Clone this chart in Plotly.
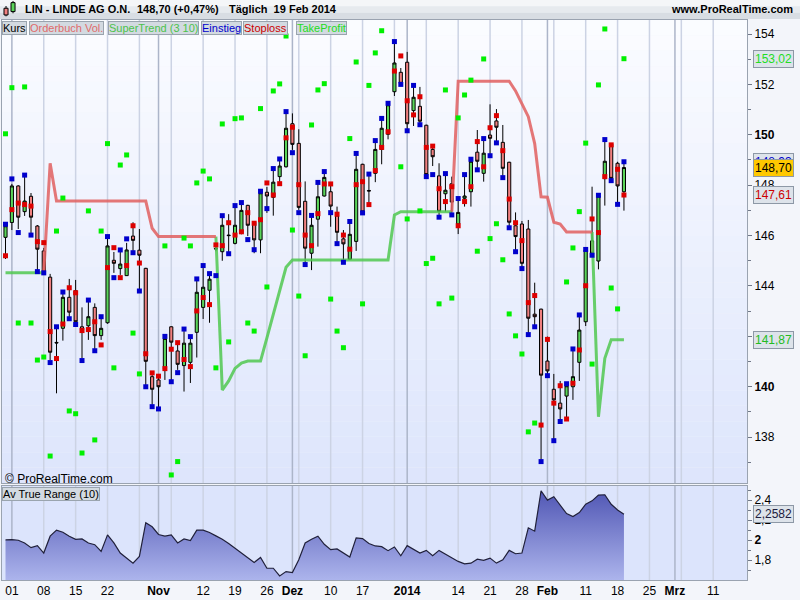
import pandas as pd
import plotly.graph_objects as go

# trading days (Xetra), index 0 = 30.09.2013
holidays = ["2013-12-24", "2013-12-25", "2013-12-26", "2013-12-31", "2014-01-01"]
days = [d.strftime("%Y-%m-%d") for d in pd.bdate_range("2013-09-30", "2014-03-21")]
days = [d for d in days if d not in holidays]
pos = {d: i for i, d in enumerate(days)}

opens = [145.93, 146.52, 147.97, 146.95, 147.56, 146.38, 145.39, 144.35, 141.76, 142.32,
         143.55, 143.81, 142.38, 142.42, 143.15, 142.03, 142.54, 145.02, 144.69, 144.41,
         145.98, 145.42, 144.70, 140.40, 140.27, 140.69, 142.38, 141.42, 140.84, 140.97,
         142.16, 143.15, 143.83, 145.49, 145.36, 146.02, 145.69, 146.09, 147.20, 146.53,
         145.83, 147.72, 147.52, 148.34, 148.73, 150.44, 149.66, 147.36, 145.30, 146.65,
         147.57, 147.74, 146.78, 145.87, 145.06, 145.77, 148.83, 147.79, 148.47, 149.42,
         150.02, 151.71, 152.48, 152.88, 150.96, 151.13, 150.38, 149.42, 148.37, 147.66,
         148.06, 146.46, 147.48, 147.74, 149.31, 148.47, 149.99, 150.55, 149.70, 148.91,
         146.39, 146.46, 146.26, 142.88, 143.08, 141.02, 139.90, 139.35, 139.63, 140.00,
         140.97, 142.58, 145.79, 144.99, 148.26, 149.63, 148.87, 147.74]
highs = [146.42, 148.05, 148.00, 148.33, 147.69, 146.42, 145.51, 144.48, 142.29, 143.72,
         144.28, 144.24, 143.15, 143.40, 143.31, 142.73, 145.90, 145.35, 145.35, 145.71,
         146.53, 146.26, 144.72, 140.51, 140.39, 141.98, 142.40, 141.70, 142.21, 141.94,
         144.20, 144.71, 144.44, 145.60, 146.74, 146.85, 147.13, 147.25, 147.22, 146.55,
         147.74, 147.93, 148.64, 149.00, 150.98, 150.85, 150.22, 148.15, 146.78, 148.09,
         148.52, 147.97, 147.15, 146.22, 146.54, 149.24, 148.85, 148.44, 149.75, 150.63,
         151.24, 153.68, 152.65, 153.29, 151.94, 151.90, 150.40, 149.56, 148.87, 148.44,
         148.34, 147.45, 148.40, 149.00, 150.19, 149.83, 151.21, 151.02, 150.39, 148.93,
         146.92, 146.58, 146.62, 144.13, 143.10, 141.99, 140.51, 140.23, 140.11, 141.46,
         142.81, 145.45, 147.94, 147.60, 149.79, 149.66, 148.93, 148.93]
lows = [145.07, 146.22, 146.26, 146.78, 146.06, 144.63, 144.55, 141.06, 139.74, 141.83,
        142.73, 142.45, 141.14, 141.86, 141.50, 141.86, 142.50, 144.52, 144.44, 144.40,
        145.39, 143.84, 140.07, 139.28, 139.16, 140.27, 140.23, 140.67, 139.81, 140.15,
        141.16, 142.69, 142.54, 145.38, 145.00, 145.30, 145.65, 146.05, 145.98, 145.30,
        145.30, 146.90, 146.79, 147.97, 148.70, 149.40, 147.02, 144.91, 144.63, 145.56,
        147.55, 146.35, 145.71, 145.03, 145.04, 145.39, 146.86, 147.15, 148.12, 148.83,
        149.82, 151.54, 151.98, 150.19, 150.35, 150.43, 148.37, 148.76, 146.82, 146.95,
        146.90, 146.06, 147.15, 147.15, 148.68, 148.14, 149.20, 149.71, 148.37, 146.38,
        145.43, 144.75, 142.13, 142.45, 137.10, 140.47, 137.89, 138.68, 138.64, 139.48,
        140.23, 142.41, 145.23, 144.66, 147.19, 148.21, 147.25, 146.99]
closes = [146.39, 147.97, 146.73, 147.37, 146.73, 145.46, 144.57, 141.37, 141.74, 143.55,
          142.96, 142.58, 142.25, 142.78, 142.03, 142.32, 145.59, 144.90, 144.87, 145.43,
          145.81, 145.22, 141.01, 139.90, 140.00, 141.92, 141.77, 140.89, 141.73, 141.73,
          143.75, 143.95, 144.27, 145.47, 146.41, 146.00, 146.41, 147.00, 146.41, 145.83,
          147.70, 147.57, 148.12, 148.76, 150.26, 149.62, 147.12, 145.50, 146.41, 147.54,
          148.31, 147.17, 146.13, 145.67, 146.05, 148.63, 146.94, 147.77, 149.42, 150.26,
          151.19, 152.85, 152.04, 150.44, 151.49, 150.54, 148.42, 149.13, 146.96, 147.80,
          147.33, 146.92, 147.57, 148.95, 148.95, 149.27, 149.86, 150.30, 148.67, 146.53,
          145.96, 144.90, 142.72, 142.78, 140.46, 140.63, 139.48, 139.12, 140.04, 140.40,
          142.25, 145.43, 145.30, 147.57, 148.95, 148.27, 147.97, 148.70]

einstieg = [146.45, 148.25, 146.12, 148.40, 146.02, 144.57, 144.52, 140.96, 142.38, 143.76,
            142.70, 142.47, 141.04, 143.44, 141.43, 142.78, 145.96, 144.33, 145.43, 145.87,
            145.32, 143.80, 140.00, 139.21, 139.12, 142.00, 140.20, 140.56, 142.29, 141.99,
            144.28, 144.81, 144.49, 144.41, 146.79, 145.28, 147.19, 147.31, 145.84, 145.44,
            147.76, 147.07, 148.66, 149.04, 150.92, 149.29, 146.91, 144.85, 146.80, 148.11,
            148.54, 146.91, 145.68, 144.94, 146.56, 149.26, 146.90, 148.44, 149.77, 150.65,
            151.25, 153.70, 152.00, 150.16, 151.96, 150.40, 148.34, 148.42, 146.73, 148.46,
            146.82, 147.47, 148.42, 149.03, 148.61, 149.85, 149.17, 149.68, 148.30, 146.31,
            145.36, 144.69, 142.07, 142.38, 137.03, 140.44, 137.86, 138.62, 140.12, 141.50,
            142.85, 145.45, 145.22, 147.60, 149.81, 148.18, 147.24, 148.93]
stoploss = [145.20, 147.03, 147.29, 147.23, 147.17, 145.76, 145.72, 142.19, 141.12, 142.49,
            143.93, 143.73, 142.23, 142.27, 142.58, 141.66, 144.73, 145.52, 144.33, 144.81,
            146.39, 144.91, 141.31, 140.55, 140.42, 140.72, 141.49, 141.75, 141.08, 140.80,
            143.01, 143.54, 143.26, 145.63, 145.60, 146.51, 146.02, 146.15, 146.91, 146.49,
            146.63, 148.09, 147.61, 148.06, 149.88, 150.30, 148.02, 146.02, 145.60, 146.87,
            148.05, 148.05, 146.85, 146.02, 145.46, 148.02, 148.14, 147.23, 148.58, 149.50,
            150.12, 152.53, 153.13, 151.35, 150.79, 151.51, 149.50, 149.55, 147.86, 147.35,
            147.94, 146.39, 147.35, 147.94, 149.73, 148.73, 150.28, 150.76, 149.37, 147.45,
            146.51, 145.80, 143.34, 143.62, 138.48, 141.88, 139.35, 140.04, 138.72, 140.14,
            141.46, 144.01, 146.66, 146.12, 148.34, 149.60, 148.63, 147.61]
takeprofit = [150.04, 151.87, 142.53, 151.90, 142.53, 141.06, 141.18, 137.25, 146.18, 147.49,
              139.04, 138.93, 137.37, 146.98, 137.89, 146.18, 149.65, 140.75, 148.80, 149.20,
              142.13, 140.51, None, None, None, 145.59, 136.50, 137.03, 145.90, 145.59,
              148.09, 148.56, 148.25, 140.75, 150.43, 141.78, 150.64, 150.67, 142.53, 142.21,
              151.04, 143.96, 151.74, 152.02, 153.92, 146.22, 143.60, 141.23, 150.39, 151.78,
              152.03, 143.48, 142.21, 141.55, 149.85, 152.89, 143.29, 151.96, 153.25, 154.13,
              None, None, 148.73, 146.66, None, 146.98, 144.89, 145.10, 143.29, 151.78,
              143.52, 150.67, 151.58, 152.17, 145.38, 153.01, 145.88, 146.47, 145.04, 142.89,
              142.02, 141.30, 138.21, 138.56, None, None, None, None, 144.16, 145.51,
              146.95, 149.67, 140.90, 151.98, 154.20, 143.92, 143.09, 153.02]

supertrend = [144.52, 144.52, 144.52, 144.52, 144.52, 144.52, 144.52, 148.87, 147.37, 147.37,
              147.37, 147.37, 147.37, 147.37, 147.37, 147.37, 147.37, 147.37, 147.37, 147.37,
              147.37, 147.37, 147.37, 146.29, 145.96, 145.96, 145.96, 145.96, 145.96, 145.96,
              145.96, 145.96, 145.96, 145.96, 139.87, 140.23, 140.73, 140.94, 141.02, 141.02,
              141.02, 141.94, 142.85, 143.80, 144.74, 145.03, 145.03, 145.03, 145.03, 145.03,
              145.03, 145.03, 145.03, 145.03, 145.03, 145.03, 145.03, 145.03, 145.03, 145.03,
              145.03, 146.82, 146.95, 146.95, 146.95, 146.95, 146.95, 146.95, 146.95, 146.95,
              146.95, 152.13, 152.13, 152.13, 152.13, 152.13, 152.13, 152.13, 152.13, 152.13,
              151.74, 151.23, 150.72, 149.65, 147.54, 147.52, 146.53, 146.46, 146.14, 146.14,
              146.14, 146.14, 146.14, 138.81, 141.13, 141.87, 141.87, 141.87]
trend = ["up"] * 7 + ["dn"] * 27 + ["up"] * 37 + ["dn"] * 22 + ["up"] * 5

atr = [2.002, 2.005, 1.998, 1.971, 1.924, 1.944, 1.870, 2.039, 2.100, 2.079,
       2.039, 2.008, 2.012, 1.971, 1.954, 1.887, 2.052, 1.971, 1.870, 1.819,
       1.769, 1.836, 2.174, 2.133, 2.056, 2.039, 2.052, 1.971, 2.012, 1.995,
       2.100, 2.100, 2.076, 2.042, 2.008, 1.965, 1.917, 1.870, 1.819, 1.776,
       1.826, 1.718, 1.718, 1.641, 1.684, 1.674, 1.803, 1.971, 2.008, 2.039,
       1.958, 1.904, 1.911, 1.870, 1.830, 2.022, 2.015, 1.965, 1.941, 1.934,
       1.894, 1.931, 1.843, 1.944, 1.911, 1.870, 1.897, 1.843, 1.897, 1.860,
       1.830, 1.786, 1.762, 1.769, 1.809, 1.796, 1.819, 1.769, 1.803, 1.897,
       1.863, 1.870, 2.123, 2.089, 2.494, 2.400, 2.434, 2.349, 2.265, 2.235,
       2.275, 2.359, 2.393, 2.451, 2.454, 2.359, 2.302, 2.2582]

tick_dates = ["2013-10-01", "2013-10-08", "2013-10-15", "2013-10-22", "2013-11-01", "2013-11-12",
              "2013-11-19", "2013-11-26", "2013-12-02", "2013-12-10", "2013-12-17", "2014-01-02",
              "2014-01-14", "2014-01-21", "2014-01-28", "2014-02-03", "2014-02-11", "2014-02-18",
              "2014-02-25", "2014-03-03", "2014-03-11"]
tick_text = ["01", "08", "15", "22", "<b>Nov</b>", "12", "19", "26", "<b>Dez</b>", "10", "17",
             "<b>2014</b>", "14", "21", "28", "<b>Feb</b>", "11", "18", "25", "<b>Mrz</b>", "11"]
week_lines = ["2013-10-08", "2013-10-15", "2013-10-22", "2013-10-29", "2013-11-05",
              "2013-11-12", "2013-11-19", "2013-11-26", "2013-12-03", "2013-12-10", "2013-12-17",
              "2013-12-27", "2014-01-07", "2014-01-14", "2014-01-21", "2014-01-28", "2014-02-04",
              "2014-02-11", "2014-02-18", "2014-02-25", "2014-03-04", "2014-03-11"]
month_lines = ["2013-10-01", "2013-11-01", "2013-12-02", "2014-01-02", "2014-02-03", "2014-03-03"]

x = list(range(len(closes)))
font = "Liberation Sans, Arial, sans-serif"

# split supertrend into coloured pieces
n = len(supertrend)
st_up = [supertrend[i] if trend[i] == "up" or (i + 1 < n and trend[i + 1] == "up") else None for i in range(n)]
st_dn = [supertrend[i] if trend[i] == "dn" or (i + 1 < n and trend[i + 1] == "dn") else None for i in range(n)]

fig = go.Figure()

fig.add_trace(go.Scatter(x=x, y=st_up, mode="lines", line=dict(color="rgba(80,200,80,0.85)", width=3),
                         xaxis="x", yaxis="y"))
fig.add_trace(go.Scatter(x=x, y=st_dn, mode="lines", line=dict(color="rgba(225,95,95,0.85)", width=3),
                         xaxis="x", yaxis="y"))

fig.add_trace(go.Candlestick(
    x=x, open=opens, high=highs, low=lows, close=closes,
    increasing=dict(fillcolor="#5ad55a", line=dict(color="black", width=1)),
    decreasing=dict(fillcolor="#f08080", line=dict(color="black", width=1)),
    xaxis="x", yaxis="y"))

fig.add_trace(go.Scatter(x=x, y=takeprofit, mode="markers",
                         marker=dict(symbol="square", size=5, color="#00f000"), xaxis="x", yaxis="y"))
fig.add_trace(go.Scatter(x=x, y=einstieg, mode="markers",
                         marker=dict(symbol="square", size=5, color="#0000cc"), xaxis="x", yaxis="y"))
fig.add_trace(go.Scatter(x=x, y=stoploss, mode="markers",
                         marker=dict(symbol="square", size=5, color="#dd0000"), xaxis="x", yaxis="y"))

fig.add_trace(go.Scatter(x=x, y=atr, mode="lines", line=dict(color="#20203a", width=1.2),
                         fill="tozeroy",
                         fillgradient=dict(type="vertical", start=1.6, stop=2.5,
                                           colorscale=[[0, "rgb(172,180,236)"], [1, "rgb(80,86,180)"]]),
                         xaxis="x2", yaxis="y2"))

shapes = []
# background gradient of the price panel
nb = 30
top_c, bot_c = (251, 252, 255), (221, 229, 252)
for k in range(nb):
    t = (k + 0.5) / nb
    c = tuple(round(top_c[j] + (bot_c[j] - top_c[j]) * t) for j in range(3))
    shapes.append(dict(type="rect", xref="x domain", yref="y domain", x0=0, x1=1,
                       y0=1 - (k + 1) / nb, y1=1 - k / nb, fillcolor="rgb(%d,%d,%d)" % c,
                       line=dict(width=0), layer="below"))
shapes.append(dict(type="rect", xref="x2 domain", yref="y2 domain", x0=0, x1=1, y0=0, y1=1,
                   fillcolor="rgb(220,228,252)", line=dict(width=0), layer="below"))
for d in week_lines:
    for xr, yr in (("x", "y domain"), ("x2", "y2 domain")):
        shapes.append(dict(type="line", xref=xr, yref=yr, x0=pos[d], x1=pos[d], y0=0, y1=1,
                           line=dict(color="rgb(204,211,228)", width=1.5), layer="below"))
for d in month_lines:
    for xr, yr in (("x", "y domain"), ("x2", "y2 domain")):
        shapes.append(dict(type="line", xref=xr, yref=yr, x0=pos[d], x1=pos[d], y0=0, y1=1,
                           line=dict(color="rgb(172,181,201)", width=1.5), layer="below"))

# header strip
for k, c in enumerate(["#f4f6f8", "#e6eaee", "#d8dde3"]):
    shapes.append(dict(type="rect", xref="paper", yref="paper", x0=-0.003, x1=1.072,
                       y0=1.0357 - (k + 1) * 0.0113, y1=1.0357 - k * 0.0113,
                       fillcolor=c, line=dict(width=0), layer="below"))
# little candle icon
shapes.append(dict(type="line", xref="paper", yref="paper", x0=0.0054, x1=0.0054, y0=1.0066, y1=1.0250,
                   line=dict(color="black", width=1)))
shapes.append(dict(type="rect", xref="paper", yref="paper", x0=0.0027, x1=0.0081, y0=1.0090, y1=1.0210,
                   fillcolor="#f08080", line=dict(color="black", width=1)))
shapes.append(dict(type="line", xref="paper", yref="paper", x0=0.0148, x1=0.0148, y0=1.0120, y1=1.0340,
                   line=dict(color="black", width=1)))
shapes.append(dict(type="rect", xref="paper", yref="paper", x0=0.0121, x1=0.0175, y0=1.0150, y1=1.0310,
                   fillcolor="#5ad55a", line=dict(color="black", width=1)))

hdr = dict(size=11, color="black", family=font)
annotations = [
    dict(text="<b>LIN - LINDE AG O.N.</b>", x=0.0278, y=1.0196, xref="paper", yref="paper",
         xanchor="left", yanchor="middle", showarrow=False, font=hdr),
    dict(text="<b>148,70 (+0,47%)</b>", x=0.1785, y=1.0196, xref="paper", yref="paper",
         xanchor="left", yanchor="middle", showarrow=False, font=hdr),
    dict(text="<b>Täglich  19 Feb 2014</b>", x=0.3020, y=1.0196, xref="paper", yref="paper",
         xanchor="left", yanchor="middle", showarrow=False, font=hdr),
    dict(text="<b>www.ProRealTime.com</b>", x=1.0645, y=1.0196, xref="paper", yref="paper",
         xanchor="right", yanchor="middle", showarrow=False, font=hdr),
    dict(text="© ProRealTime.com", x=0.002, y=0.1800, xref="paper", yref="paper",
         xanchor="left", yanchor="middle", showarrow=False, font=dict(size=12, color="black", family=font)),
]

legend_items = [("Kurs", "black", 0.0), ("Orderbuch Vol.", "#e06a6a", 0.0362),
                ("SuperTrend (3 10)", "#4cc24c", 0.1423), ("Einstieg", "#0000cc", 0.2671),
                ("Stoploss", "#cc0000", 0.3235), ("TakeProfit", "#22dd22", 0.3946)]
for txt, col, xp in legend_items:
    annotations.append(dict(text=txt, x=xp, y=0.9991, xref="paper", yref="paper", xanchor="left",
                            yanchor="top", showarrow=False, bgcolor="#d3dae1", bordercolor="#9aa4ae",
                            borderwidth=1, borderpad=0, font=dict(size=11, color=col, family=font)))
annotations.append(dict(text="Av True Range (10)", x=0.0, y=0.1661, xref="paper", yref="paper",
                        xanchor="left", yanchor="top", showarrow=False, bgcolor="#d3dae1",
                        bordercolor="#9aa4ae", borderwidth=1, borderpad=0,
                        font=dict(size=11, color="black", family=font)))

value_labels = [(153.02, "153,02", "#22dd22", "#dde3ea", "y"),
                (148.93, "148,93", "#0000cc", "#dde3ea", "y"),
                (148.70, "148,70", "black", "#ffc800", "y"),
                (147.61, "147,61", "#cc0000", "#dde3ea", "y"),
                (141.87, "141,87", "#22bb22", "#dde3ea", "y"),
                (2.2582, "2,2582", "#202040", "#dde3ea", "y2")]
for val, txt, col, bg, yr in value_labels:
    annotations.append(dict(text=txt, x=1.0075, y=val, xref="paper", yref=yr, xanchor="left",
                            yanchor="middle", showarrow=False, bgcolor=bg, bordercolor="#8d98a6",
                            borderwidth=1, borderpad=1, font=dict(size=12, color=col, family=font)))

axis_line = "#9aa3b0"
fig.update_layout(
    width=800, height=600,
    margin=dict(l=2, r=53, t=20, b=20),
    paper_bgcolor="#f3f5fa", plot_bgcolor="rgba(0,0,0,0)",
    showlegend=False, hovermode=False,
    font=dict(family=font, size=12, color="black"),
    shapes=shapes, annotations=annotations,
    xaxis=dict(domain=[0, 1], anchor="y", range=[-0.55, 116.3], showgrid=False, zeroline=False,
               showticklabels=False, ticks="", showline=True, mirror=True, linecolor=axis_line,
               rangeslider=dict(visible=False)),
    yaxis=dict(domain=[0.1732, 1], anchor="x", side="right", range=[136.18, 154.556],
               tickmode="array", tickvals=[138, 140, 142, 144, 146, 148, 150, 152, 154],
               ticktext=["138", "<b>140</b>", "142", "144", "146", "148", "<b>150</b>", "152", "154"],
               ticks="outside", ticklen=4, tickcolor="#707888", showgrid=False, zeroline=False,
               showline=True, mirror=True, linecolor=axis_line,
               minor=dict(tickvals=[137, 139, 141, 143, 145, 147, 149, 151, 153], ticks="outside",
                          ticklen=3, tickcolor="#707888"),
               tickfont=dict(size=12, color="black")),
    xaxis2=dict(domain=[0, 1], anchor="y2", matches="x", range=[-0.55, 116.3], showgrid=False,
                zeroline=False, tickmode="array", tickvals=[pos[d] for d in tick_dates],
                ticktext=tick_text, ticks="", showline=True, mirror=True, linecolor=axis_line,
                tickfont=dict(size=12, color="black")),
    yaxis2=dict(domain=[0, 0.1679], anchor="x2", side="right", range=[1.6, 2.542],
                tickmode="array", tickvals=[1.8, 2.0, 2.2, 2.4], ticktext=["1,8", "<b>2</b>", "2,2", "2,4"],
                ticks="outside", ticklen=4, tickcolor="#707888", showgrid=False, zeroline=False,
                showline=True, mirror=True, linecolor=axis_line,
                minor=dict(tickvals=[1.7, 1.9, 2.1, 2.3, 2.5], ticks="outside", ticklen=3,
                           tickcolor="#707888"),
                tickfont=dict(size=12, color="black")),
)

fig.write_html("out.html", config={"displayModeBar": False},
               post_script="document.body.style.margin = '0';")
